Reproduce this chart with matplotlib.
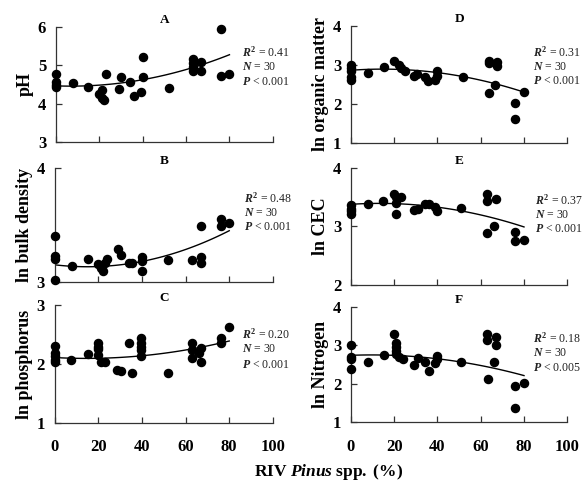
import numpy as np
import matplotlib
matplotlib.use("Agg")
import matplotlib.pyplot as plt

plt.rcParams["font.family"] = ["Liberation Serif", "DejaVu Serif"]
plt.rcParams["mathtext.fontset"] = "custom"
plt.rcParams["mathtext.rm"] = "Liberation Serif"
plt.rcParams["mathtext.it"] = "Liberation Serif:italic"
plt.rcParams["mathtext.bf"] = "Liberation Serif:bold"
plt.rcParams["mathtext.bfit"] = "Liberation Serif:bold:italic"

# ---- data ----
ph_x = [0, 0, 0, 0, 8, 15, 20, 21, 21, 22, 23, 29, 30, 34, 36, 39, 40, 40, 52,
        63, 63, 63, 63, 67, 67, 76, 76, 80]
ph_y = [4.78, 4.57, 4.49, 4.43, 4.53, 4.42, 4.25, 4.34, 4.14, 4.08, 4.76, 4.38, 4.69, 4.55, 4.20, 4.31,
        5.21, 4.69, 4.41, 5.17, 5.05, 4.94, 4.85, 5.09, 4.85, 5.95, 4.72, 4.78]
ph_fit = [4.46, -0.0021, 1.53e-4]

bd_x = [0, 0, 0, 0, 8, 15, 20, 21, 22, 23, 24, 29, 30.5, 34, 35.5, 40, 40, 40, 52,
        63, 67, 67, 67, 76, 76, 80]
bd_y = [3.40, 3.23, 3.20, 3.02, 3.14, 3.20, 3.16, 3.12, 3.10, 3.17, 3.20, 3.29, 3.24, 3.17, 3.17,
        3.22, 3.18, 3.10, 3.19, 3.19, 3.49, 3.22, 3.17, 3.55, 3.49, 3.52]
bd_fit = [3.15, -0.00225, 7.5e-5]

p_x = [0, 0, 0, 0, 0, 7.5, 15, 20, 20, 20, 20, 21, 23, 28.5, 30.5, 34, 35.5,
       39.5, 39.5, 39.5, 39.5, 39.5, 52, 63, 63, 63, 67, 66, 67, 76, 76, 80]
p_y = [2.30, 2.18, 2.13, 2.07, 2.04, 2.07, 2.17, 2.36, 2.29, 2.25, 2.15, 2.04, 2.03, 1.90, 1.88,
       2.35, 1.84, 2.44, 2.36, 2.29, 2.24, 2.13, 1.84, 2.35, 2.24, 2.11, 2.27, 2.18, 2.03,
       2.44, 2.35, 2.63]
p_fit = [2.11, -0.002, 6.9e-5]

om_x = [0, 0, 0, 0, 0, 8, 15.5, 20, 22, 23, 25, 29, 30.5, 34, 35.5, 39, 40, 40, 52,
        64, 64, 64, 67.5, 67.5, 66.5, 76, 76, 80]
om_y = [2.99, 2.91, 2.83, 2.70, 2.62, 2.80, 2.94, 3.10, 3.00, 2.91, 2.85, 2.72, 2.77, 2.70, 2.59,
        2.62, 2.83, 2.72, 2.70, 3.11, 3.04, 2.27, 3.06, 2.96, 2.49, 2.02, 1.61, 2.30]
om_fit = [2.86, 0.004, -1.375e-4]

cec_x = [0, 0, 0, 0, 8, 15, 20, 21, 23, 21, 21, 29, 31, 34, 36, 39, 40, 51,
         63, 63, 63, 67, 66, 76, 76, 80]
cec_y = [3.36, 3.30, 3.26, 3.21, 3.38, 3.43, 3.56, 3.51, 3.50, 3.40, 3.21, 3.29, 3.30, 3.38, 3.38,
         3.33, 3.26, 3.32, 3.56, 3.44, 2.89, 3.47, 3.01, 2.90, 2.75, 2.77]
cec_fit = [3.38, 0.0024, -9.06e-5]

n_x = [0, 0, 0, 0, 8, 15.5, 20, 21, 21, 21, 21, 22, 24, 29, 31, 34, 36, 39, 40, 40, 51,
       63, 63, 63.5, 67, 67, 66, 76, 76, 80]
n_y = [3.01, 2.69, 2.64, 2.38, 2.57, 2.75, 3.29, 3.06, 2.97, 2.86, 2.78, 2.69, 2.64, 2.49, 2.66,
       2.57, 2.34, 2.53, 2.64, 2.71, 2.57, 3.29, 3.14, 2.12, 3.23, 3.00, 2.57, 1.94, 1.35, 2.02]
n_fit = [2.74, 0.0021, -1.09e-4]

panels = [
    # letter, ylabel, x, y, fit, yticks, r2, p-text, rect, text positions
    ("A", "pH", ph_x, ph_y, ph_fit, [3, 4, 5, 6], "0.41", "< 0.001",
     [0.096, 0.708, 0.372, 0.237], (0.86, [0.74, 0.62, 0.49])),
    ("B", "ln bulk density", bd_x, bd_y, bd_fit, [3, 4], "0.48", "< 0.001",
     [0.094, 0.420, 0.374, 0.234], (0.87, [0.70, 0.58, 0.46])),
    ("C", "ln phosphorus", p_x, p_y, p_fit, [1, 2, 3], "0.20", "< 0.001",
     [0.094, 0.130, 0.374, 0.242], (0.86, [0.72, 0.60, 0.47])),
    ("D", "ln organic matter", om_x, om_y, om_fit, [1, 2, 3, 4], "0.31", "< 0.001",
     [0.602, 0.706, 0.371, 0.241], (0.84, [0.74, 0.62, 0.50])),
    ("E", "ln CEC", cec_x, cec_y, cec_fit, [2, 3, 4], "0.37", "< 0.001",
     [0.602, 0.414, 0.371, 0.240], (0.85, [0.69, 0.57, 0.45])),
    ("F", "ln Nitrogen", n_x, n_y, n_fit, [1, 2, 3, 4], "0.18", "< 0.005",
     [0.602, 0.132, 0.371, 0.236], (0.84, [0.69, 0.57, 0.44])),
]

xticks = [0, 20, 40, 60, 80, 100]

fig = plt.figure(figsize=(5.83, 4.86), dpi=100)

for letter, ylab, xs, ys, fit, yt, r2, ptxt, rect, (tx, tys) in panels:
    ax = fig.add_axes(rect)
    ax.scatter(xs, ys, s=34, color="black", zorder=3, clip_on=False)
    xx = np.linspace(0, 80, 100)
    ax.plot(xx, np.polyval(fit[::-1], xx), color="black", lw=1.0)
    ax.set_xlim(0, 100)
    ax.set_ylim(yt[0], yt[-1])
    ax.set_xticks(xticks)
    ax.set_yticks(yt)
    for s in ["top", "right"]:
        ax.spines[s].set_visible(False)
    for s in ["left", "bottom"]:
        ax.spines[s].set_linewidth(0.9)
        ax.spines[s].set_color("#333333")
    ax.tick_params(direction="in", length=4, width=0.9, colors="#333333",
                   labelsize=12, labelcolor="black")
    ax.tick_params(axis="x", pad=12)
    ax.tick_params(axis="y", pad=7)
    for lab in ax.get_xticklabels() + ax.get_yticklabels():
        lab.set_fontweight("bold")
    if letter not in ("C", "F"):
        ax.tick_params(axis="x", labelbottom=False)
    ax.set_title(letter, fontsize=9.5, fontweight="bold", pad=3)
    ax.set_ylabel(ylab, fontsize=13, fontweight="bold", labelpad=3)
    ax.text(tx, tys[0], r"$\mathbfit{R}^{\,\mathbf{2}}$ = " + r2, transform=ax.transAxes,
            fontsize=8.5, color="#222222")
    ax.text(tx, tys[1], r"$\mathbfit{N}$ = 30", transform=ax.transAxes,
            fontsize=8.5, color="#222222")
    ax.text(tx, tys[2], r"$\mathbfit{P}$ " + ptxt, transform=ax.transAxes,
            fontsize=8.5, color="#222222")

fig.text(0.563, 0.028, r"$\mathbf{RIV}\ \mathbfit{Pinus}\ \mathbf{spp.\ (\%)}$",
         ha="center", va="center", fontsize=12.5)

fig.savefig("out.png", dpi=100)
